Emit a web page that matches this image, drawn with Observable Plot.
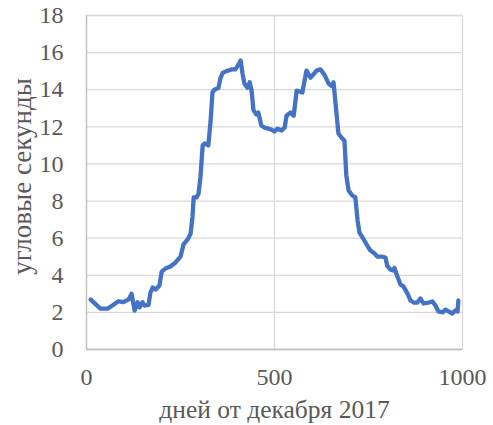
<!DOCTYPE html>
<html><head><meta charset="utf-8">
<script src="https://cdn.jsdelivr.net/npm/d3@7"></script>
<script src="https://cdn.jsdelivr.net/npm/@observablehq/plot@0.6"></script>
<style>body{margin:0;background:#fff}</style>
</head><body><div id="chart"></div>
<script>
const days = [11,37,56,69,85,98,112,120,128,136,141,149,154,165,170,176,184,194,200,210,223,237,250,258,269,277,282,285,293,298,303,309,314,324,330,335,340,351,356,362,372,388,396,404,410,415,420,428,434,439,444,452,457,465,473,484,492,500,508,519,527,532,543,551,559,574,585,596,612,622,633,644,652,657,665,670,678,686,691,697,707,715,721,726,734,745,755,766,774,787,795,800,809,816,819,824,835,843,854,862,870,880,888,896,910,920,928,936,947,955,963,973,981,987,989];
const arcsec = [2.69,2.2,2.2,2.37,2.6,2.55,2.7,3.0,2.1,2.55,2.27,2.55,2.37,2.4,3.07,3.34,3.23,3.45,4.2,4.36,4.47,4.69,5.0,5.66,5.93,6.25,7.17,8.2,8.2,8.4,9.27,11.0,11.1,11.0,12.3,13.85,14.0,14.1,14.6,14.9,15.0,15.1,15.1,15.35,15.57,14.87,14.33,14.1,14.4,13.96,12.9,12.66,12.77,12.07,11.96,11.9,11.85,11.75,11.9,11.8,11.96,12.6,12.77,12.6,13.95,13.85,15.03,14.65,15.03,15.1,14.8,14.33,14.2,14.4,12.7,11.64,11.42,11.26,9.38,8.57,8.3,8.2,6.95,6.3,6.04,5.66,5.33,5.17,5.0,5.0,4.96,4.5,4.3,4.26,4.4,4.1,3.5,3.4,3.0,2.64,2.53,2.53,2.75,2.48,2.53,2.59,2.37,2.05,2.0,2.15,2.05,1.94,2.1,2.05,2.64];
const xTicks = [0,500,1000];
const yTicks = [0,2,4,6,8,10,12,14,16,18];
const xLabel = "дней от декабря 2017";
const yLabel = "угловые секунды";
const data = days.map((d,i)=>({d, v: arcsec[i]}));
const txt = "#595959";

const chart = Plot.plot({
  width: 493, height: 425,
  marginLeft: 86, marginRight: 31, marginTop: 15, marginBottom: 76,
  style: {fontFamily: "'Liberation Serif', serif", background: "#fff"},
  x: {domain: [0,1000]},
  y: {domain: [0,18]},
  marks: [
    Plot.gridY(yTicks, {stroke: "#d9d9d9", strokeOpacity: 1, strokeWidth: 1.3}),
    Plot.gridX([500], {stroke: "#d9d9d9", strokeOpacity: 1, strokeWidth: 1.3}),
    Plot.frame({stroke: "#d9d9d9", strokeWidth: 1.3}),
    Plot.ruleY([0], {stroke: "#bfbfbf", strokeWidth: 1.3}),
    Plot.ruleX([0], {stroke: "#bfbfbf", strokeWidth: 1.3}),
    Plot.axisX(xTicks, {tickSize: 0, tickPadding: 0, dy: 18, fontSize: 24, fill: txt, tickFormat: d => String(d), label: null}),
    Plot.axisY(yTicks, {tickSize: 0, tickPadding: 0, dx: -23, fontSize: 24, fill: txt, tickFormat: d => String(d), label: null}),
    Plot.text([xLabel], {frameAnchor: "bottom", lineAnchor: "middle", dy: 60, fontSize: 25.5, fill: txt}),
    Plot.text([yLabel], {frameAnchor: "left", textAnchor: "middle", lineAnchor: "middle", rotate: -90, dx: -64, dy: -6, fontSize: 27, fill: txt}),
    Plot.line(data, {x: "d", y: "v", stroke: "#4472C4", strokeWidth: 4.3, curve: "linear", strokeLinejoin: "round"})
  ]
});
document.getElementById("chart").appendChild(chart);
</script>
</body></html>
